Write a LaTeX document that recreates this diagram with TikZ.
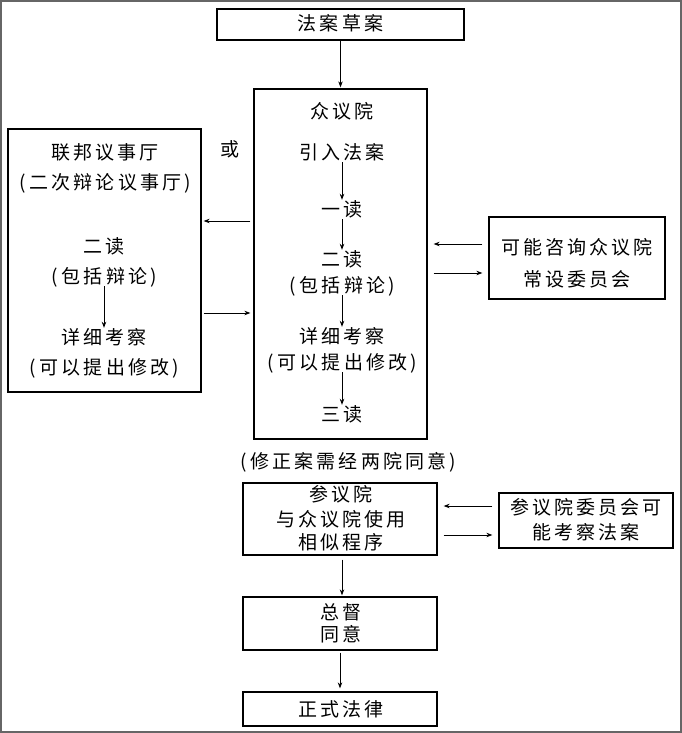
\documentclass[tikz,border=0pt]{standalone}
\usepackage{fontspec}
\newfontfamily\cjk{Noto Sans CJK SC}[LetterSpace=16]
\usetikzlibrary{arrows.meta}
\newcommand{\lp}{(\kern4pt}
\newcommand{\rp}{\kern3pt)}
\begin{document}
\begin{tikzpicture}[x=1pt,y=-1pt,
  box/.style={draw, line width=1.3pt, inner sep=0pt},
  txt/.style={font=\cjk\fontsize{19}{22}\selectfont, inner sep=0pt, align=center, text height=14pt, text depth=2pt},
  arr/.style={-{Stealth[length=6pt,width=4.5pt]}, line width=0.8pt},
  inarr/.style={arr, shorten <=1pt, shorten >=2pt},
]
\useasboundingbox (0,0) rectangle (682,733);
\draw[line width=2pt, gray!80!black] (1,1) rectangle (681,732);

% boxes
\node[box, minimum width=247, minimum height=31] (draft) at (340.5,24.5) {};
\node[box, minimum width=173, minimum height=350] (hr) at (340.5,264) {};
\node[box, minimum width=193, minimum height=263] (fed) at (104.5,260.5) {};
\node[box, minimum width=176, minimum height=82] (rb1) at (577,258) {};
\node[box, minimum width=194, minimum height=72] (sen) at (340,519) {};
\node[box, minimum width=174, minimum height=55] (rb2) at (586,520.5) {};
\node[box, minimum width=194, minimum height=53] (gov) at (340,623.5) {};
\node[box, minimum width=194, minimum height=34] (fin) at (340,709) {};

% texts
\node[txt] (draftT) at (340.5,25) {法案草案};
\node[txt] (hr0) at (342,113) {众议院};
\node[txt] (hr1) at (342,153) {引入法案};
\node[txt] (hr2) at (342,210) {一读};
\node[txt] (hr3) at (342,260) {二读};
\node[txt] (hr4) at (342,286) {\lp 包括辩论\rp};
\node[txt] (hr5) at (342,337) {详细考察};
\node[txt] (hr6) at (342,363) {\lp 可以提出修改\rp};
\node[txt] (hr7) at (342,415) {三读};

\node[txt] (or) at (230,150) {或};

\node[txt] (fed0) at (105,153) {联邦议事厅};
\node[txt] (fed1) at (105,183) {\lp 二次辩论议事厅\rp};
\node[txt] (fed2) at (104,247) {二读};
\node[txt] (fed3) at (104,277) {\lp 包括辩论\rp};
\node[txt] (fed4) at (104,338) {详细考察};
\node[txt] (fed5) at (104,368) {\lp 可以提出修改\rp};

\node[txt] (rb1a) at (577,248) {可能咨询众议院};
\node[txt] (rb1b) at (577,280) {常设委员会};

\node[txt] (amend) at (348,462) {\lp 修正案需经两院同意\rp};

\node[txt] (sen0) at (341,495) {参议院};
\node[txt] (sen1) at (341,520) {与众议院使用};
\node[txt] (sen2) at (341,543) {相似程序};

\node[txt] (rb2a) at (586,508) {参议院委员会可};
\node[txt] (rb2b) at (586,533) {能考察法案};

\node[txt] (gov0) at (341,613) {总督};
\node[txt] (gov1) at (341,635) {同意};

\node[txt] (finT) at (341,710) {正式法律};

% arrows inside boxes
\draw[inarr] (hr1) -- (hr2);
\draw[inarr] (hr2) -- (hr3);
\draw[inarr] (hr4) -- (hr5);
\draw[inarr] (hr6) -- (hr7);
\draw[inarr] (fed3) -- (fed4);

% arrows between boxes
\draw[arr, shorten >=1pt] (draftT.center |- draft.south) -- (draftT.center |- hr.north);
\coordinate (yA) at (0,221);
\coordinate (yB) at (0,313);
\coordinate (yC) at (0,244);
\coordinate (yD) at (0,273);
\coordinate (yE) at (0,506);
\coordinate (yF) at (0,535);
\draw[arr, shorten <=3pt, shorten >=2pt] (hr.west |- yA) -- (fed.east |- yA);
\draw[arr, shorten <=2pt, shorten >=3pt] (fed.east |- yB) -- (hr.west |- yB);
\draw[arr, shorten <=6pt, shorten >=6pt] (rb1.west |- yC) -- (hr.east |- yC);
\draw[arr, shorten <=6pt, shorten >=6pt] (hr.east |- yD) -- (rb1.west |- yD);
\draw[arr, shorten <=6pt, shorten >=6pt] (rb2.west |- yE) -- (sen.east |- yE);
\draw[arr, shorten <=6pt, shorten >=6pt] (sen.east |- yF) -- (rb2.west |- yF);
\draw[arr, shorten <=4pt, shorten >=1pt] (hr7.center |- sen.south) -- (hr7.center |- gov.north);
\draw[arr, shorten <=2pt, shorten >=3pt] (gov.south) -- (fin.north);
\end{tikzpicture}
\end{document}
